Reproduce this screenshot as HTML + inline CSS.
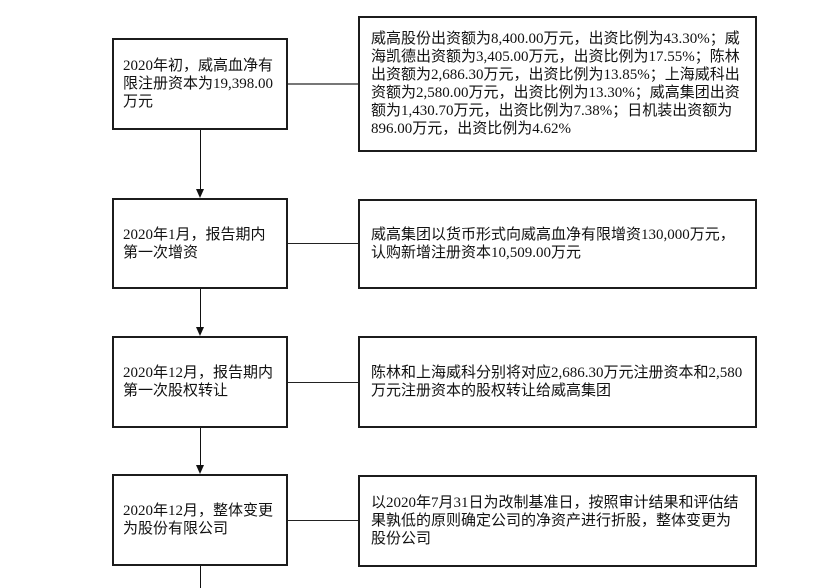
<!DOCTYPE html>
<html>
<head>
<meta charset="utf-8">
<style>
  html, body { margin: 0; padding: 0; }
  body { width: 832px; height: 588px; background: #fff; position: relative; overflow: hidden;
         font-family: "Liberation Serif", "Noto Sans CJK SC", serif; font-size: 15px; color: #111; }
  .box { position: absolute; box-sizing: border-box; border: 2px solid #1c1c1c; background: #fff;
         display: flex; align-items: center; }
  .box .t { white-space: nowrap; line-height: 18px; }
  .l { left: 112px; width: 176px; padding-left: 9px; }
  .r { left: 358px; width: 399px; padding-left: 11px; }
  .v { position: absolute; left: 199.5px; width: 1.3px; background: #111; }
  .h { position: absolute; left: 288px; width: 70px; height: 1.3px; background: #222; }
  .arr { position: absolute; width: 0; height: 0; border-left: 4.5px solid transparent;
         border-right: 4.5px solid transparent; border-top: 9px solid #111; left: 195.7px; }
</style>
</head>
<body>
  <!-- vertical connectors -->
  <div class="v" style="top:130px;height:60px;"></div>
  <div class="arr" style="top:189px;"></div>
  <div class="v" style="top:289px;height:39px;"></div>
  <div class="arr" style="top:327px;"></div>
  <div class="v" style="top:428px;height:38px;"></div>
  <div class="arr" style="top:465px;"></div>
  <div class="v" style="top:566px;height:22px;"></div>

  <!-- horizontal connectors -->
  <div class="h" style="top:83px;height:2px;background:#777;"></div>
  <div class="h" style="top:242.5px;"></div>
  <div class="h" style="top:381.5px;"></div>
  <div class="h" style="top:519.5px;"></div>

  <!-- row 1 -->
  <div class="box l" style="top:38px;height:92px;">
    <div class="t">2020年初，威高血净有<br>限注册资本为19,398.00<br>万元</div>
  </div>
  <div class="box r" style="top:16px;height:136px;">
    <div class="t">威高股份出资额为8,400.00万元，出资比例为43.30%；威<br>海凯德出资额为3,405.00万元，出资比例为17.55%；陈林<br>出资额为2,686.30万元，出资比例为13.85%；上海威科出<br>资额为2,580.00万元，出资比例为13.30%；威高集团出资<br>额为1,430.70万元，出资比例为7.38%；日机装出资额为<br>896.00万元，出资比例为4.62%</div>
  </div>

  <!-- row 2 -->
  <div class="box l" style="top:198px;height:91px;">
    <div class="t">2020年1月，报告期内<br>第一次增资</div>
  </div>
  <div class="box r" style="top:199px;height:90px;">
    <div class="t">威高集团以货币形式向威高血净有限增资130,000万元，<br>认购新增注册资本10,509.00万元</div>
  </div>

  <!-- row 3 -->
  <div class="box l" style="top:336px;height:92px;">
    <div class="t">2020年12月，报告期内<br>第一次股权转让</div>
  </div>
  <div class="box r" style="top:336px;height:92px;">
    <div class="t">陈林和上海威科分别将对应2,686.30万元注册资本和2,580<br>万元注册资本的股权转让给威高集团</div>
  </div>

  <!-- row 4 -->
  <div class="box l" style="top:474px;height:92px;">
    <div class="t">2020年12月，整体变更<br>为股份有限公司</div>
  </div>
  <div class="box r" style="top:475px;height:92px;">
    <div class="t">以2020年7月31日为改制基准日，按照审计结果和评估结<br>果孰低的原则确定公司的净资产进行折股，整体变更为<br>股份公司</div>
  </div>
</body>
</html>
